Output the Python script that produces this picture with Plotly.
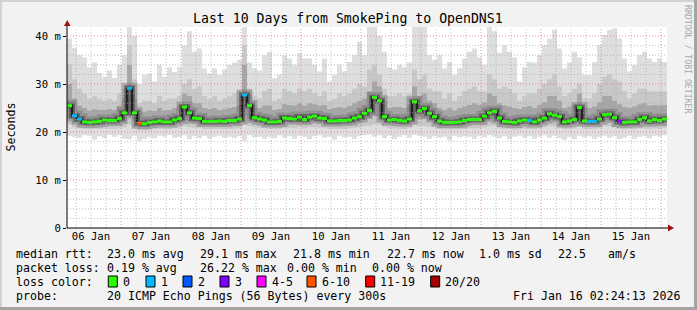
import plotly.graph_objects as go
from datetime import datetime, timedelta

# ---------------- data (2-hour consolidated samples, ms) ----------------
start = datetime(2026, 1, 6, 2, 24, 13)
end = start + timedelta(days=10)
step = timedelta(hours=2)

median = [
    25.5, 23.4, 22.7, 22.1, 22.0, 22.1, 22.2, 22.5, 22.4, 22.4,
    22.8, 24.0, 29.1, 24.0, 21.8, 21.7, 22.0, 22.1, 22.3, 22.1,
    22.1, 22.5, 22.8, 25.2, 24.0, 22.9, 22.8, 22.2, 22.2, 22.2,
    22.3, 22.2, 22.4, 22.4, 22.7, 27.7, 25.5, 23.0, 22.7, 22.5,
    22.1, 22.1, 22.2, 22.9, 22.8, 22.7, 23.1, 22.6, 23.1, 23.3,
    22.9, 22.8, 22.3, 22.3, 22.4, 22.4, 22.5, 22.9, 23.2, 23.9,
    24.5, 27.2, 26.5, 23.2, 22.5, 22.6, 22.4, 22.3, 22.7, 26.3,
    24.4, 24.9, 23.9, 23.2, 22.3, 22.0, 22.0, 22.0, 22.1, 22.4,
    22.6, 22.6, 22.6, 23.3, 24.0, 24.3, 22.9, 22.2, 22.1, 22.0,
    22.3, 22.5, 22.4, 22.1, 22.5, 22.9, 23.8, 23.5, 23.2, 22.1,
    22.3, 22.6, 25.1, 22.3, 22.2, 22.2, 22.7, 23.6, 23.7, 23.0,
    22.2, 22.0, 22.1, 22.1, 22.6, 23.0, 22.3, 22.6, 22.4, 22.7,
]
loss_class = [0] * 120
for idx, c in [(1, 1), (2, 1), (12, 1), (14, 5), (35, 1), (92, 1), (104, 1), (105, 1), (110, 3)]:
    loss_class[idx] = c

ping_max = [
    39.5, 37.5, 36.0, 35.5, 33.5, 34.5, 32.3, 31.5, 32.8, 31.3,
    34.0, 36.0, 42.0, 40.0, 30.0, 31.9, 32.2, 30.5, 34.0, 31.5,
    33.5, 32.5, 33.5, 38.0, 41.0, 36.7, 37.4, 33.3, 32.2, 33.3,
    31.9, 33.0, 34.0, 34.5, 35.0, 41.8, 34.5, 33.3, 32.8, 36.0,
    36.7, 31.2, 32.0, 36.0, 35.3, 34.0, 36.4, 35.3, 35.3, 34.0,
    32.6, 35.3, 30.5, 31.9, 34.0, 32.6, 34.6, 36.0, 38.8, 36.0,
    42.0, 42.0, 40.0, 36.7, 33.5, 33.0, 34.0, 33.5, 34.5, 42.0,
    42.0, 42.0, 36.0, 35.0, 36.0, 33.3, 34.6, 31.9, 33.3, 35.3,
    36.7, 37.4, 35.5, 34.0, 42.0, 41.0, 36.5, 38.0, 36.7, 35.5,
    30.5, 33.5, 34.6, 34.5, 36.0, 38.1, 39.5, 41.3, 37.4, 33.3,
    34.5, 36.7, 35.5, 31.9, 31.9, 34.6, 38.1, 40.2, 41.3, 41.6,
    39.5, 35.3, 32.6, 34.0, 36.0, 36.7, 35.3, 34.6, 35.3, 34.6,
]
ping_p90 = [
    34, 31, 29, 28, 27, 27.5, 27, 26.5, 27, 26.5,
    28, 29, 38, 31, 26, 26.5, 26.5, 26, 27.5, 26.5,
    27, 27, 27.5, 30, 31, 29, 29.5, 27.5, 27, 27.5,
    26.5, 27, 27.5, 28, 28.5, 38, 29, 27.5, 27, 28.5,
    29, 26.5, 27, 29, 28.5, 28, 29, 28.5, 29, 28,
    27.5, 28.5, 26.5, 27, 28, 27.5, 28, 29, 30, 29.5,
    33, 34, 32, 29, 27.5, 27.5, 28, 27.5, 28, 33,
    31, 32, 29, 28.5, 28.5, 27, 28, 26.5, 27.5, 28.5,
    29, 29.5, 28.5, 28.5, 32, 31, 29, 29.5, 29, 28,
    26.5, 27.5, 28, 28, 29, 30, 31, 32, 29.5, 27.5,
    28, 29, 30, 27, 27, 28, 30, 31.5, 32, 31,
    30.5, 28.5, 27, 28, 29, 29, 28.5, 28.5, 28.5, 28.5,
]
ping_p75 = [
    30, 27, 25.5, 25, 24.5, 24.8, 24.6, 24.6, 24.8, 24.6,
    25.5, 27, 34, 27, 24.5, 24.2, 24.5, 24.4, 25, 24.5,
    24.6, 25, 25.5, 28, 27.5, 26, 26, 25, 24.8, 25,
    24.6, 24.8, 25, 25.2, 25.5, 34, 28, 25.5, 25, 25.5,
    25.5, 24.6, 24.8, 25.8, 25.6, 25.5, 26, 25.5, 26, 25.8,
    25.5, 25.6, 24.8, 25, 25.2, 25, 25.4, 26, 26.5, 27,
    28.5, 30.5, 29.5, 26.5, 25, 25.2, 25.2, 25, 25.5, 29.5,
    27.5, 28, 26.5, 26, 25, 24.6, 25, 24.5, 25, 25.3,
    25.6, 26, 25.6, 26.2, 28, 27.5, 26, 25.5, 25.3, 25,
    24.8, 25.2, 25.4, 25, 25.6, 26.2, 27.5, 27.5, 26.5, 25,
    25.3, 25.8, 28, 25.2, 25, 25.3, 26.2, 27.5, 27.5, 26.5,
    25.8, 25.2, 25, 25.3, 25.8, 26, 25.5, 25.6, 25.5, 25.6,
]
ping_p25 = [
    22.8, 21.9, 21.7, 21.5, 21.4, 21.5, 21.5, 21.7, 21.6, 21.6,
    21.8, 22.3, 23.5, 22.3, 21.2, 21.1, 21.3, 21.4, 21.5, 21.4,
    21.4, 21.6, 21.8, 22.5, 22.2, 21.9, 21.8, 21.5, 21.5, 21.5,
    21.6, 21.5, 21.6, 21.6, 21.8, 23.5, 22.8, 22.0, 21.8, 21.7,
    21.4, 21.4, 21.5, 21.9, 21.8, 21.8, 22.0, 21.7, 22.0, 22.1,
    21.9, 21.8, 21.5, 21.5, 21.6, 21.6, 21.7, 21.9, 22.1, 22.5,
    22.8, 23.5, 23.3, 22.2, 21.7, 21.7, 21.6, 21.5, 21.8, 23.0,
    22.6, 22.8, 22.4, 22.0, 21.5, 21.3, 21.3, 21.3, 21.4, 21.6,
    21.8, 21.8, 21.8, 22.2, 22.6, 22.8, 22.0, 21.5, 21.4, 21.3,
    21.5, 21.7, 21.6, 21.4, 21.7, 22.0, 22.5, 22.4, 22.2, 21.4,
    21.6, 21.8, 22.5, 21.6, 21.5, 21.5, 21.9, 22.4, 22.5, 22.1,
    21.5, 21.3, 21.4, 21.4, 21.8, 22.0, 21.6, 21.8, 21.6, 21.9,
]
ping_p10 = [
    21.5, 21.0, 20.8, 20.7, 20.6, 20.7, 20.6, 20.8, 20.7, 20.7,
    20.8, 21.0, 21.6, 21.0, 20.4, 20.3, 20.5, 20.6, 20.7, 20.6,
    20.6, 20.8, 20.9, 21.2, 21.0, 20.9, 20.9, 20.6, 20.6, 20.7,
    20.7, 20.6, 20.7, 20.7, 20.8, 21.5, 21.2, 21.0, 20.9, 20.8,
    20.6, 20.6, 20.7, 20.9, 20.9, 20.8, 21.0, 20.8, 21.0, 21.0,
    20.9, 20.9, 20.7, 20.7, 20.7, 20.7, 20.8, 20.9, 21.0, 21.2,
    21.3, 21.6, 21.5, 21.1, 20.8, 20.8, 20.7, 20.7, 20.9, 21.4,
    21.2, 21.3, 21.1, 21.0, 20.6, 20.5, 20.5, 20.5, 20.6, 20.7,
    20.8, 20.8, 20.8, 21.0, 21.2, 21.3, 20.9, 20.7, 20.6, 20.5,
    20.6, 20.8, 20.7, 20.6, 20.8, 21.0, 21.2, 21.2, 21.0, 20.6,
    20.7, 20.8, 21.2, 20.7, 20.6, 20.7, 20.9, 21.2, 21.2, 21.0,
    20.7, 20.5, 20.6, 20.6, 20.8, 20.9, 20.7, 20.8, 20.7, 20.9,
]
ping_min = [
    19.2, 19.0, 18.8, 19.3, 19.2, 18.4, 19.1, 18.7, 19.4, 19.0,
    19.3, 18.6, 18.5, 19.2, 18.2, 18.6, 19.0, 18.7, 19.2, 19.0,
    19.4, 18.8, 19.0, 19.3, 18.5, 19.1, 18.7, 19.2, 18.6, 19.0,
    19.2, 18.8, 19.0, 18.7, 19.1, 18.2, 19.3, 18.9, 19.0, 18.6,
    19.0, 18.7, 19.3, 18.8, 19.1, 18.6, 19.2, 19.0, 18.5, 19.1,
    19.3, 18.8, 19.0, 18.4, 19.2, 18.9, 19.0, 18.6, 19.2, 19.3,
    19.5, 19.0, 19.3, 18.7, 19.2, 18.5, 19.0, 19.3, 18.8, 19.4,
    19.2, 19.0, 18.6, 19.1, 18.8, 19.0, 18.3, 19.2, 18.9, 19.1,
    19.0, 18.6, 19.2, 18.9, 19.3, 19.0, 18.7, 19.1, 18.5, 19.0,
    19.2, 18.8, 19.1, 18.6, 19.0, 19.3, 18.8, 19.2, 18.7, 18.4,
    19.0, 18.5, 19.2, 18.9, 19.1, 18.6, 19.0, 19.2, 18.8, 19.1,
    18.5, 18.8, 19.2, 18.6, 19.0, 19.1, 18.7, 19.2, 19.0, 19.3,
]

day_labels = ["06 Jan", "07 Jan", "08 Jan", "09 Jan", "10 Jan",
              "11 Jan", "12 Jan", "13 Jan", "14 Jan", "15 Jan"]
y_ticks = [0, 10, 20, 30, 40]
y_ticktext = ["0", "10 m", "20 m", "30 m", "40 m"]

loss_labels = ["0", "1", "2", "3", "4-5", "6-10", "11-19", "20/20"]
loss_colors = ["#26ff00", "#00b8ff", "#0059ff", "#7e00ff",
               "#ff00ff", "#ff5500", "#ff0000", "#a10000"]

# ---------------- geometry helpers ----------------
W, H = 697, 310
PL, PR, PT, PB = 67, 667, 27, 228
YMAX = (PB - PT) / 4.8  # 10 ms per 48 px


def px(x):
    return (x - PL) / (PR - PL)


def py(y):
    return (PB - y) / (PB - PT)


FONT = "DejaVu Sans Mono"
times = [start + i * step for i in range(len(median))] + [end]


def ext(a):
    return list(a) + [a[-1]]


fig = go.Figure()


def band(lower, upper, color):
    fig.add_trace(go.Scatter(x=times, y=ext(lower), mode="lines",
                             line=dict(width=0, shape="hv"), hoverinfo="skip"))
    fig.add_trace(go.Scatter(x=times, y=ext(upper), mode="lines",
                             line=dict(width=0, shape="hv"), fill="tonexty",
                             fillcolor=color, hoverinfo="skip"))


band(ping_min, ping_max, "#dedede")
band(ping_p10, ping_p90, "#c8c8c8")
band(ping_p25, ping_p75, "#a6a6a6")

# dark smoke core (layered soft strokes) and median trace
for wdt, col in [(11, "rgba(110,110,110,0.45)"), (6, "rgba(80,80,80,0.6)"),
                 (3, "rgba(50,50,50,0.7)")]:
    fig.add_trace(go.Scatter(x=times, y=ext(median), mode="lines",
                             line=dict(width=wdt, shape="hv", color=col),
                             hoverinfo="skip"))
fig.add_trace(go.Scatter(x=times, y=ext(median), mode="lines",
                         line=dict(width=1, shape="hv", color="#000000"),
                         hoverinfo="skip"))

for cls, col in enumerate(loss_colors):
    xs, ys = [], []
    for i, (m, c) in enumerate(zip(median, loss_class)):
        if c == cls:
            xs += [times[i], times[i + 1], None]
            ys += [m, m, None]
    if xs:
        fig.add_trace(go.Scatter(x=xs, y=ys, mode="lines",
                                 line=dict(width=3, color=col), hoverinfo="skip"))

shapes = []
# vertical grid every 6 h, red at midnight
t = datetime(2026, 1, 6, 6)
while t < end:
    major = t.hour == 0
    shapes.append(dict(type="line", xref="x", yref="paper", x0=t, x1=t, y0=0, y1=1,
                       layer="above",
                       line=dict(width=1, dash="1px,2px",
                                 color="rgba(225,110,110,0.75)" if major else "rgba(170,170,170,0.75)")))
    t += timedelta(hours=6)
# horizontal grid every 2 ms, red every 10 ms
for v in range(2, 42, 2):
    major = v % 10 == 0
    shapes.append(dict(type="line", xref="paper", yref="y", x0=0, x1=1, y0=v, y1=v,
                       layer="above",
                       line=dict(width=1, dash="1px,2px",
                                 color="rgba(225,110,110,0.75)" if major else "rgba(170,170,170,0.75)")))

# axis arrows
shapes.append(dict(type="line", xref="paper", yref="paper", x0=px(67), x1=px(67),
                   y0=py(228), y1=py(23), line=dict(color="black", width=1)))
shapes.append(dict(type="path", xref="paper", yref="paper",
                   path=f"M {px(64)},{py(26)} L {px(70.5)},{py(26)} L {px(67.2)},{py(20)} Z",
                   fillcolor="#a01010", line=dict(width=0)))
shapes.append(dict(type="line", xref="paper", yref="paper", x0=px(67), x1=px(669),
                   y0=py(228), y1=py(228), line=dict(color="black", width=1)))
shapes.append(dict(type="path", xref="paper", yref="paper",
                   path=f"M {px(668)},{py(224.5)} L {px(668)},{py(231.5)} L {px(674)},{py(228)} Z",
                   fillcolor="#a01010", line=dict(width=0)))

# frame
shapes += [
    dict(type="rect", xref="paper", yref="paper", x0=px(0), x1=px(697), y0=py(0), y1=py(2),
         fillcolor="#d2d2d2", line=dict(width=0)),
    dict(type="rect", xref="paper", yref="paper", x0=px(0), x1=px(2), y0=py(0), y1=py(310),
         fillcolor="#d2d2d2", line=dict(width=0)),
    dict(type="rect", xref="paper", yref="paper", x0=px(0), x1=px(697), y0=py(307), y1=py(310),
         fillcolor="#a4a4a4", line=dict(width=0)),
    dict(type="rect", xref="paper", yref="paper", x0=px(694), x1=px(697), y0=py(0), y1=py(310),
         fillcolor="#a4a4a4", line=dict(width=0)),
]

annotations = []


def text(x, y, s, size=11.6, anchor="left", color="black", angle=0):
    annotations.append(dict(xref="paper", yref="paper", x=px(x), y=py(y), text=s,
                            showarrow=False, xanchor=anchor, yanchor="middle",
                            textangle=angle, borderpad=0, borderwidth=0,
                            font=dict(family=FONT, size=size, color=color)))


text(348, 19, "Last 10 Days from SmokePing to OpenDNS1", size=13.2, anchor="center")
text(10, 127.5, "Seconds", anchor="center", angle=-90)
text(688, 59, "RRDTOOL / TOBI OETIKER", size=8.2, anchor="center", color="#a8a8a8", angle=90)

rows = [
    (254, [(16, "median rtt:"), (107, "23.0 ms avg"), (200, "29.1 ms max"),
           (293, "21.8 ms min"), (386.7, "22.7 ms now"), (479.3, "1.0 ms sd"),
           (558.3, "22.5"), (607.7, "am/s")]),
    (268, [(16, "packet loss:"), (107, "0.19 % avg"), (200, "26.22 % max"),
           (287, "0.00 % min"), (372.3, "0.00 % now")]),
    (282, [(16, "loss color:")]),
    (296, [(16, "probe:"), (107, "20 ICMP Echo Pings (56 Bytes) every 300s")]),
]
for yy, items in rows:
    for xx, s in items:
        text(xx, yy, s)
text(681, 296, "Fri Jan 16 02:24:13 2026", anchor="right")

box_x = [108.3, 146, 183, 220, 257, 307, 365.7, 430.7]
for bx, lab, col in zip(box_x, loss_labels, loss_colors):
    shapes.append(dict(type="rect", xref="paper", yref="paper",
                       x0=px(bx), x1=px(bx + 9), y0=py(276), y1=py(287),
                       fillcolor=col, line=dict(color="black", width=1)))
    text(bx + 14.5, 282, lab)

fig.update_layout(
    width=W, height=H,
    margin=dict(l=PL, r=W - PR, t=PT, b=H - PB),
    paper_bgcolor="#f2f2f2", plot_bgcolor="white",
    showlegend=False, hovermode=False,
    shapes=shapes, annotations=annotations,
    xaxis=dict(type="date", range=[start, end], showgrid=False, zeroline=False,
               showline=False,
               tickvals=[datetime(2026, 1, 6 + i, 12) for i in range(10)],
               ticktext=day_labels, ticks="",
               tickfont=dict(family=FONT, size=10.6, color="black")),
    yaxis=dict(range=[0, YMAX], showgrid=False, zeroline=False, showline=False,
               tickvals=y_ticks, ticktext=y_ticktext, ticks="outside", ticklen=3,
               tickcolor="black",
               tickfont=dict(family=FONT, size=10.6, color="black")),
)

fig.write_html("out.html")
